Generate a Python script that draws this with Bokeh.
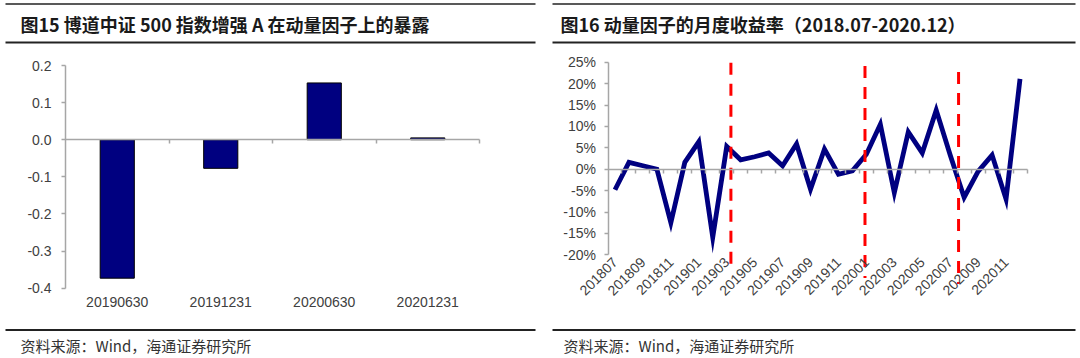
import math
from bokeh.plotting import figure
from bokeh.models import Range1d, LinearAxis, FixedTicker, Label, PrintfTickFormatter
from bokeh.embed import file_html
from bokeh.resources import INLINE

# ---------------- data ----------------
bar_dates = ["20190630", "20191231", "20200630", "20201231"]
bar_exposure = [-0.373, -0.077, 0.153, 0.005]

months = ["201807", "201808", "201809", "201810", "201811", "201812",
          "201901", "201902", "201903", "201904", "201905", "201906",
          "201907", "201908", "201909", "201910", "201911", "201912",
          "202001", "202002", "202003", "202004", "202005", "202006",
          "202007", "202008", "202009", "202010", "202011", "202012"]
monthly_return = [-4.8, 1.6, 0.8, 0.0, -12.5, 1.6,
                  6.4, -15.9, 5.3, 2.2, 2.9, 3.8,
                  0.8, 5.9, -4.7, 4.7, -1.2, -0.4,
                  3.5, 10.5, -5.5, 8.7, 3.8, 13.8,
                  3.3, -6.6, -0.5, 3.3, -7.0, 21.1]

# red dashed marker lines (position in month units, vertical extent in %)
marker_pos = [8.8, 18.4, 25.1]
marker_top = [24.9, 24.1, 22.7]
marker_bottom = [-24.2, -25.4, -26.8]

left_ticks = [-0.4, -0.3, -0.2, -0.1, 0.0, 0.1, 0.2]
right_ticks = [-20, -15, -10, -5, 0, 5, 10, 15, 20, 25]

left_title = "图15 博道中证 500 指数增强 A 在动量因子上的暴露"
right_title = "图16 动量因子的月度收益率（2018.07-2020.12）"
source_text = "资料来源：Wind，海通证券研究所"

# ---------------- styles / layout ----------------
CJK = "Noto Sans CJK SC"
LAT = "Liberation Sans"
GREY = "#a6a6a6"
TXT = "#404040"
W, H = 1076, 356

# plot boxes in page pixels (x from left, y from top)
L_BOX = dict(x0=65, x1=479, y_top=65, y_bot=287.7)
R_BOX = dict(x0=607.5, x1=1026.5, y_top=61.7, y_bot=254.3)


def mapped(v_a, px_a, v_b, px_b, px_start, px_end):
    k = (v_b - v_a) / (px_b - px_a)
    return Range1d(v_a + (px_start - px_a) * k, v_a + (px_end - px_a) * k)


p = figure(width=W, height=H, x_range=Range1d(0, W), y_range=Range1d(H, 0),
           x_axis_type=None, y_axis_type=None, toolbar_location=None,
           output_backend="svg", min_border=0)
p.outline_line_color = None
p.grid.visible = False

n_bar = len(bar_dates)
n_mon = len(months)
p.extra_x_ranges = {
    "lx": mapped(0, L_BOX["x0"], n_bar, L_BOX["x1"], 0, W),
    "rx": mapped(0, R_BOX["x0"], n_mon, R_BOX["x1"], 0, W),
}
p.extra_y_ranges = {
    "ly": mapped(left_ticks[0], L_BOX["y_bot"], left_ticks[-1], L_BOX["y_top"], H, 0),
    "ry": mapped(right_ticks[0], R_BOX["y_bot"], right_ticks[-1], R_BOX["y_top"], H, 0),
}


def y_axis(xr, yr, ticks, fmt, standoff):
    return LinearAxis(x_range_name=xr, y_range_name=yr, fixed_location=0,
                      bounds=(ticks[0], ticks[-1]), ticker=FixedTicker(ticks=ticks),
                      formatter=PrintfTickFormatter(format=fmt),
                      axis_line_color=GREY, axis_line_width=1.5,
                      major_tick_line_color=GREY, major_tick_line_width=1.5,
                      major_tick_in=0, major_tick_out=4, minor_tick_line_color=None,
                      major_label_standoff=standoff, major_label_text_font=LAT,
                      major_label_text_font_size="14px", major_label_text_color=TXT)


def zero_axis(xr, yr, n):
    return LinearAxis(x_range_name=xr, y_range_name=yr, fixed_location=0, bounds=(0, n),
                      ticker=FixedTicker(ticks=[], minor_ticks=list(range(1, n + 1))),
                      axis_line_color=GREY, axis_line_width=1.5,
                      major_tick_line_color=None,
                      minor_tick_line_color=GREY, minor_tick_line_width=1.5,
                      minor_tick_in=0, minor_tick_out=4,
                      major_label_text_font_size="0px")


def label_axis(xr, yr, loc, n, ticks, labels, standoff, orientation="horizontal"):
    return LinearAxis(x_range_name=xr, y_range_name=yr, fixed_location=loc, bounds=(0, n),
                      ticker=FixedTicker(ticks=ticks),
                      major_label_overrides={t: s for t, s in zip(ticks, labels)},
                      axis_line_color=None, major_tick_line_color=None,
                      minor_tick_line_color=None, major_tick_out=0, major_tick_in=0,
                      major_label_standoff=standoff, major_label_orientation=orientation,
                      major_label_text_font=LAT, major_label_text_font_size="14px",
                      major_label_text_color=TXT)


# ---------------- left chart ----------------
bx = [i + 0.5 for i in range(n_bar)]
p.vbar(x=bx, top=bar_exposure, bottom=0, width=0.33, fill_color="#000080",
       line_color="#000000", line_width=1, x_range_name="lx", y_range_name="ly")
p.add_layout(y_axis("lx", "ly", left_ticks, "%.1f", 10), "left")
p.add_layout(zero_axis("lx", "ly", n_bar), "below")
p.add_layout(label_axis("lx", "ly", left_ticks[0], n_bar, bx, bar_dates, 9), "below")

# ---------------- right chart ----------------
mx = [i + 0.5 for i in range(n_mon)]
p.add_layout(y_axis("rx", "ry", right_ticks, "%d%%", 8), "left")
p.add_layout(zero_axis("rx", "ry", n_mon), "below")
p.add_layout(label_axis("rx", "ry", right_ticks[0], n_mon, mx[::2], months[::2], 5,
                        math.pi / 4), "below")
p.line(x=mx, y=monthly_return, line_color="#000080", line_width=4.8, line_join="miter",
       x_range_name="rx", y_range_name="ry")
p.segment(x0=marker_pos, x1=marker_pos, y0=marker_top, y1=marker_bottom,
          line_color="#ff0000", line_width=3, line_dash="12 9",
          x_range_name="rx", y_range_name="ry")

# ---------------- titles, rules, sources ----------------
for (x0, x1) in [(5, 535), (552, 1075)]:
    p.segment(x0=[x0, x0, x0], x1=[x1, x1, x1], y0=[3.5, 42, 329.5], y1=[3.5, 42, 329.5],
              line_color="#222222", line_width=[1.5, 2, 2])

for tx, txt in [(20, left_title), (560, right_title)]:
    p.add_layout(Label(x=tx, y=23, text=txt, text_font=CJK, text_font_size="18px",
                       text_font_style="bold", text_color="#1a1a1a", text_baseline="middle"))
for tx in [20, 563]:
    p.add_layout(Label(x=tx, y=345, text=source_text, text_font=CJK, text_font_size="15px",
                       text_color="#333333", text_baseline="middle"))

open("out.html", "w").write(file_html(p, INLINE))
